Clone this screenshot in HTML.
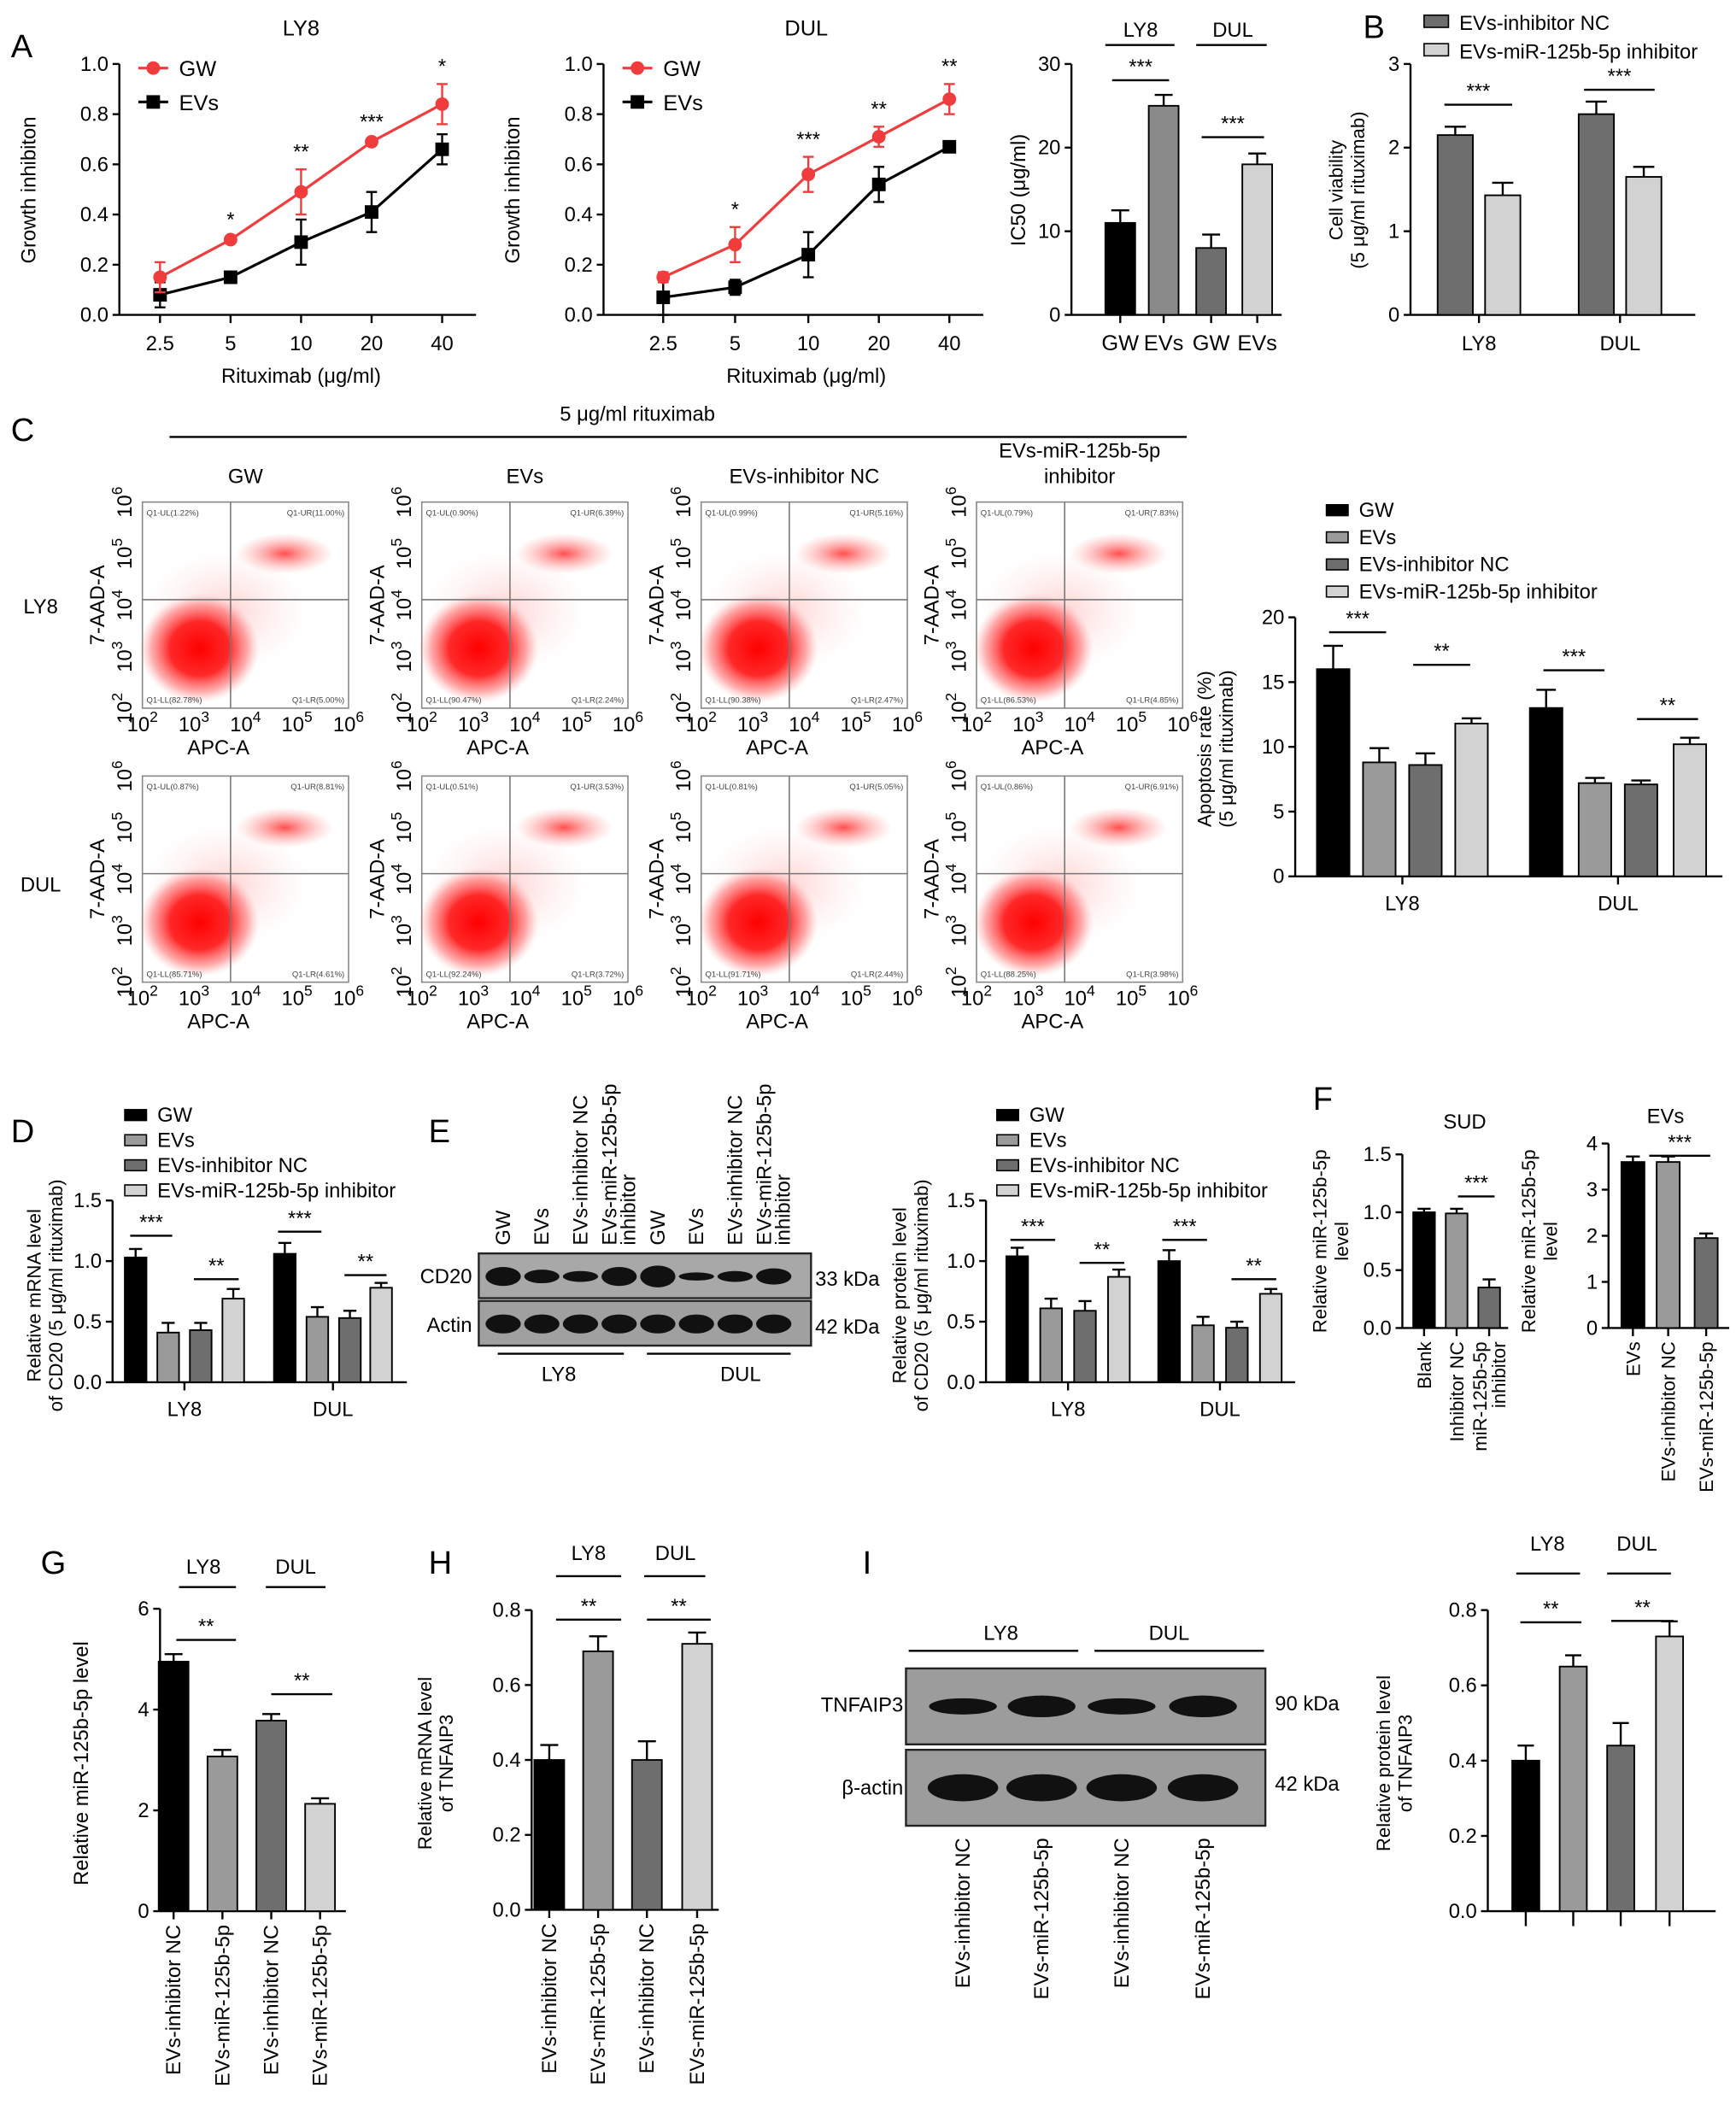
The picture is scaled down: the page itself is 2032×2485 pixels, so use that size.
<!DOCTYPE html>
<html><head><meta charset="utf-8">
<style>
html,body{margin:0;padding:0;background:#fff;}
svg{display:block;font-family:"Liberation Sans",Arial,sans-serif;}
</style></head>
<body>
<svg id="fig" xmlns="http://www.w3.org/2000/svg" width="2032" height="2485" viewBox="0 0 1280 1565">
<rect width="1280" height="1565" fill="#fff"/>
<g font-size="24" fill="#000">
<text x="8" y="42">A</text><text x="1005" y="28">B</text><text x="8" y="325">C</text>
<text x="8" y="842">D</text><text x="316" y="842">E</text><text x="968" y="818">F</text>
<text x="30" y="1160">G</text><text x="316" y="1160">H</text><text x="636" y="1160">I</text>
</g>
</svg>
<script>
const NS='http://www.w3.org/2000/svg';
const svg=document.getElementById('fig');
function mk(tag,attrs,name,parent){const e=document.createElementNS(NS,tag);for(const k in attrs)e.setAttribute(k,attrs[k]);


(parent||svg).appendChild(e);return e;}
function txt(x,y,s,size,name,opt){opt=opt||{};const a={x:x,y:y,'font-size':size,'text-anchor':opt.anchor||'middle',fill:opt.fill||'#000'};
if(opt.rot!==undefined)a.transform='rotate('+opt.rot+' '+x+' '+y+')';const t=mk('text',a,name);t.textContent=s;return t;}
function line(x1,y1,x2,y2,name,w,c){return mk('line',{x1:x1,y1:y1,x2:x2,y2:y2,stroke:c||'#000','stroke-width':w||1.5},name);}

// ===== DATA =====
const doseLabels=['2.5','5','10','20','40'];
const ly8GW=[0.15,0.30,0.49,0.69,0.84], ly8GWerr=[0.06,0.01,0.09,0.01,0.08];
const ly8EV=[0.08,0.15,0.29,0.41,0.66], ly8EVerr=[0.05,0.02,0.09,0.08,0.06];
const ly8Sig=['','*','**','***','*'];
const dulGW=[0.15,0.28,0.56,0.71,0.86], dulGWerr=[0.02,0.07,0.07,0.04,0.06];
const dulEV=[0.07,0.11,0.24,0.52,0.67], dulEVerr=[0.07,0.03,0.09,0.07,0.01];
const dulSig=['','*','***','**','**'];
const ic50Cats=['GW','EVs','GW','EVs'];
const ic50Vals=[11,25,8,18], ic50Err=[1.5,1.3,1.6,1.3];
const bCats=['LY8','DUL'];
const bNC=[2.15,2.4], bNCerr=[0.1,0.15];
const bInh=[1.43,1.65], bInhErr=[0.15,0.12];
const apopLY8=[16,8.8,8.6,11.8], apopLY8Err=[1.8,1.1,0.9,0.4];
const apopDUL=[13,7.2,7.1,10.2], apopDULErr=[1.4,0.4,0.3,0.5];
const dLY8=[1.03,0.41,0.43,0.69], dLY8Err=[0.07,0.08,0.06,0.08];
const dDUL=[1.06,0.54,0.53,0.78], dDULErr=[0.09,0.08,0.06,0.04];
const eLY8=[1.04,0.61,0.59,0.87], eLY8Err=[0.07,0.08,0.08,0.06];
const eDUL=[1.0,0.47,0.45,0.73], eDULErr=[0.09,0.07,0.05,0.04];
const sudCats=['Blank','Inhibitor NC','miR-125b-5p|inhibitor'];
const sudVals=[1.0,0.99,0.35], sudErr=[0.03,0.04,0.07];
const evCats=['EVs','EVs-inhibitor NC','EVs-miR-125b-5p'];
const evVals=[3.6,3.6,1.95], evErr=[0.12,0.12,0.1];
const gCats=['EVs-inhibitor NC','EVs-miR-125b-5p','EVs-inhibitor NC','EVs-miR-125b-5p'];
const gVals=[4.95,3.07,3.78,2.13], gErr=[0.15,0.13,0.13,0.11];
const hVals=[0.40,0.69,0.40,0.71], hErr=[0.04,0.04,0.05,0.03];
const iVals=[0.40,0.65,0.44,0.73], iErr=[0.04,0.03,0.06,0.04];
const flowQ=[['1.22','11.00','82.78','5.00'],['0.90','6.39','90.47','2.24'],['0.99','5.16','90.38','2.47'],['0.79','7.83','86.53','4.85'],
['0.87','8.81','85.71','4.61'],['0.51','3.53','92.24','3.72'],['0.81','5.05','91.71','2.44'],['0.86','6.91','88.25','3.98']];

const C4=['#000','#9a9a9a','#6e6e6e','#d2d2d2'];

// ===== helpers =====
function yScale(yb,yt,max){return v=>yb-v/max*(yb-yt);}
function yAxis(x,yb,yt,max,ticks,fmt,title,name,fs){
  const ys=yScale(yb,yt,max);
  line(x,yb,x,yt,name+'-y-axis');
  ticks.forEach(t=>{line(x-5,ys(t),x,ys(t),name+'-y-tick');txt(x-8,ys(t)+5,fmt(t),fs||15,name+'-y-tick-label',{anchor:'end'});});
  return ys;
}
function bars(xs,vals,errs,w,ys,yb,colors,name){
  vals.forEach((v,i)=>{
    const y=ys(v);
    line(xs[i],y,xs[i],ys(v+errs[i]),name+'-error-bar',1.5);
    line(xs[i]-w*0.3,ys(v+errs[i]),xs[i]+w*0.3,ys(v+errs[i]),name+'-error-cap',1.5);
    mk('rect',{x:xs[i]-w/2,y:y,width:w,height:yb-y,fill:colors[i%colors.length],stroke:'#000','stroke-width':1.2},name+'-bar');
  });
}
function sig(x1,x2,y,s,name){line(x1,y,x2,y,name+'-sig-line',1.5);txt((x1+x2)/2,y-5,s,15,name+'-sig-stars');}
function rotLabel(x,y,s,size,name,anchor){return txt(x,y,s,size,name,{rot:-90,anchor:anchor||'end'});}
function ytitle(x,y,lines,size,name){lines.forEach((l,i)=>txt(x+i*(size+2),y,l,size,name,{rot:-90}));}

// ===== A line charts =====
function lineChart(ax,xs,gw,gwe,ev,eve,sigs,title,name){
  const yb=232,yt=47;
  txt((xs[0]+xs[4])/2,26,title,16,name+'-title');
  const ys=yAxis(ax,yb,yt,1.0,[0,0.2,0.4,0.6,0.8,1.0],t=>t.toFixed(1),'',name,15);
  line(ax,yb,xs[4]+25,yb,name+'-x-axis');
  xs.forEach((x,i)=>{line(x,yb,x,yb+6,name+'-x-tick');txt(x,yb+26,doseLabels[i],15,name+'-x-tick-label');});
  txt((xs[0]+xs[4])/2,yb+50,'Rituximab (μg/ml)',15,name+'-x-axis-title');
  ytitle(ax-62,140,['Growth inhibiton'],15,name+'-y-axis-title');
  function series(v,e,color,shape,sname){
    mk('polyline',{points:xs.map((x,i)=>x+','+ys(v[i])).join(' '),fill:'none',stroke:color,'stroke-width':2},sname+'-line');
    v.forEach((val,i)=>{
      line(xs[i],ys(val-e[i]),xs[i],ys(val+e[i]),sname+'-error-bar',1.5,color);
      line(xs[i]-4,ys(val+e[i]),xs[i]+4,ys(val+e[i]),sname+'-error-cap',1.5,color);
      line(xs[i]-4,ys(val-e[i]),xs[i]+4,ys(val-e[i]),sname+'-error-cap',1.5,color);
      if(shape==='c')mk('circle',{cx:xs[i],cy:ys(val),r:5,fill:color},sname+'-point');
      else mk('rect',{x:xs[i]-5,y:ys(val)-5,width:10,height:10,fill:color},sname+'-point');
    });
  }
  series(ev,eve,'#000','s',name+'-evs');
  series(gw,gwe,'#f03c3c','c',name+'-gw');
  sigs.forEach((s,i)=>{if(s)txt(xs[i],ys(Math.max(gw[i]+gwe[i],ev[i]+eve[i]))-8,s,15,name+'-sig');});
  line(ax+14,50,ax+36,50,name+'-legend-gw-line',2,'#f03c3c');mk('circle',{cx:ax+25,cy:50,r:5,fill:'#f03c3c'},name+'-legend-gw-marker');
  txt(ax+44,56,'GW',16,name+'-legend-gw',{anchor:'start'});
  line(ax+14,75,ax+36,75,name+'-legend-evs-line',2);mk('rect',{x:ax+20,y:70,width:10,height:10,fill:'#000'},name+'-legend-evs-marker');
  txt(ax+44,81,'EVs',16,name+'-legend-evs',{anchor:'start'});
}
lineChart(88,[118,170,222,274,326],ly8GW,ly8GWerr,ly8EV,ly8EVerr,ly8Sig,'LY8','a-ly8');
lineChart(445,[489,542,596,648,700],dulGW,dulGWerr,dulEV,dulEVerr,dulSig,'DUL','a-dul');

// IC50
(function(){const ys=yAxis(790,232,47,30,[0,10,20,30],t=>''+t,'','a-ic50',15);
line(790,232,945,232,'a-ic50-x-axis');const xs=[826,858,893,927];
bars(xs,ic50Vals,ic50Err,22,ys,232,['#000','#8a8a8a','#6e6e6e','#d2d2d2'],'a-ic50');
xs.forEach((x,i)=>{line(x,232,x,238,'a-ic50-x-tick');txt(x,258,ic50Cats[i],16,'a-ic50-x-label');});
ytitle(756,140,['IC50 (μg/ml)'],15,'a-ic50-y-title');
line(815,33,866,33,'a-ic50-ly8-line');txt(841,27,'LY8',15,'a-ic50-ly8-label');
line(882,33,934,33,'a-ic50-dul-line');txt(909,27,'DUL',15,'a-ic50-dul-label');
sig(820,862,59,'***','a-ic50-ly8');sig(886,932,101,'***','a-ic50-dul');})();

// B
(function(){const ys=yAxis(1040,232,47,3,[0,1,2,3],t=>''+t,'','b',15);
line(1040,232,1250,232,'b-x-axis');const xa=[1073,1177],xb=[1108,1212];
bars(xa,bNC,bNCerr,26,ys,232,['#6e6e6e'],'b-nc');bars(xb,bInh,bInhErr,26,ys,232,['#d2d2d2'],'b-inh');
bCats.forEach((c,i)=>{const m=(xa[i]+xb[i])/2;line(m,232,m,238,'b-x-tick');txt(m,258,c,15,'b-x-label');});
ytitle(990,140,['Cell viability','(5 μg/ml rituximab)'],14,'b-y-title');
sig(1065,1115,77,'***','b-ly8');sig(1168,1220,66,'***','b-dul');
mk('rect',{x:1050,y:11,width:18,height:9,fill:'#6e6e6e',stroke:'#000'},'b-legend-nc-swatch');txt(1076,22,'EVs-inhibitor NC',15,'b-legend-nc',{anchor:'start'});
mk('rect',{x:1050,y:32,width:18,height:9,fill:'#d2d2d2',stroke:'#000'},'b-legend-inh-swatch');txt(1076,43,'EVs-miR-125b-5p inhibitor',15,'b-legend-inh',{anchor:'start'});})();

// ===== C flow =====
txt(470,310,'5 μg/ml rituximab',15,'c-title');line(125,322,875,322,'c-title-line',1.5);
const colX=[105,311,517,720], rowY=[370,572], colT=['GW','EVs','EVs-inhibitor NC','EVs-miR-125b-5p|inhibitor'];
txt(30,452,'LY8',15,'c-row-ly8');txt(30,657,'DUL',15,'c-row-dul');
const defs=mk('defs',{},'defs');
const rg=mk('radialGradient',{id:'blob'},'blob-gradient',defs);
mk('stop',{offset:'0','stop-color':'#f00','stop-opacity':'1'},'stop',rg);
mk('stop',{offset:'0.5','stop-color':'#f11','stop-opacity':'0.9'},'stop',rg);
mk('stop',{offset:'0.8','stop-color':'#f44','stop-opacity':'0.45'},'stop',rg);
mk('stop',{offset:'1','stop-color':'#f88','stop-opacity':'0'},'stop',rg);
const rg2=mk('radialGradient',{id:'blob2'},'blob-gradient-2',defs);
mk('stop',{offset:'0','stop-color':'#f22','stop-opacity':'0.8'},'stop',rg2);
mk('stop',{offset:'1','stop-color':'#f88','stop-opacity':'0'},'stop',rg2);
const clip=mk('clipPath',{id:'fclip'},'flow-clip',defs);
let k=0;
rowY.forEach((y,r)=>colX.forEach((x,c)=>{
  const w=152,h=152,nm='c-flow-'+(r?'dul':'ly8')+'-'+c;
  if(r===0){const parts=colT[c].split('|');parts.forEach((p,i)=>txt(x+w/2,y-(parts.length-i)*19+5,p,15,nm+'-title'));}
  mk('rect',{x:x,y:y,width:w,height:h,fill:'#fff',stroke:'#888','stroke-width':1},nm+'-box');
  mk('ellipse',{cx:x+62,cy:y+80,rx:60,ry:45,fill:'url(#blob2)',opacity:'0.25'},nm+'-cluster-scatter');
  mk('ellipse',{cx:x+42,cy:y+108,rx:44,ry:40,fill:'url(#blob)'},nm+'-cluster-live');
  mk('ellipse',{cx:x+105,cy:y+38,rx:36,ry:15,fill:'url(#blob2)'},nm+'-cluster-late');
  line(x+65,y,x+65,y+h,nm+'-gate-v',1,'#777');line(x,y+72,x+w,y+72,nm+'-gate-h',1,'#777');
  const q=flowQ[k++];
  txt(x+3,y+10,'Q1-UL('+q[0]+'%)',6,nm+'-q-ul',{anchor:'start',fill:'#444'});
  txt(x+w-3,y+10,'Q1-UR('+q[1]+'%)',6,nm+'-q-ur',{anchor:'end',fill:'#444'});
  txt(x+3,y+h-4,'Q1-LL('+q[2]+'%)',6,nm+'-q-ll',{anchor:'start',fill:'#444'});
  txt(x+w-3,y+h-4,'Q1-LR('+q[3]+'%)',6,nm+'-q-lr',{anchor:'end',fill:'#444'});
  for(let i=0;i<5;i++){
    const tx=x+i*w/4, t=mk('text',{x:tx,y:y+h+17,'font-size':15,'text-anchor':'middle'},nm+'-x-tick');t.innerHTML='10<tspan dy="-7" font-size="11">'+(i+2)+'</tspan>';
    const ty=y+h-i*h/4, t2=mk('text',{x:x-8,y:ty,'font-size':15,'text-anchor':'middle',transform:'rotate(-90 '+(x-8)+' '+ty+')'},nm+'-y-tick');t2.innerHTML='10<tspan dy="-7" font-size="11">'+(i+2)+'</tspan>';
  }
  txt(x+w/2-20,y+h+34,'APC-A',15,nm+'-x-title');
  txt(x-28,y+h/2,'7-AAD-A',15,nm+'-y-title',{rot:-90});
}));

// C bar
function groupChart(ax,yb,yt,max,ticks,fmt,gx,bw,d1,e1,d2,e2,name,x2){
  const ys=yAxis(ax,yb,yt,max,ticks,fmt,'',name,15);line(ax,yb,x2,yb,name+'-x-axis');
  const xs1=gx[0].map(v=>v),xs2=gx[1].map(v=>v);
  bars(xs1,d1,e1,bw,ys,yb,C4,name+'-ly8');bars(xs2,d2,e2,bw,ys,yb,C4,name+'-dul');
  ['LY8','DUL'].forEach((c,i)=>{const g=i?xs2:xs1;const m=(g[0]+g[3])/2;line(m,yb,m,yb+6,name+'-x-tick');txt(m,yb+25,c,15,name+'-x-label');});
  return ys;
}
function legend4(x,y,gap,name){['GW','EVs','EVs-inhibitor NC','EVs-miR-125b-5p inhibitor'].forEach((s,i)=>{
  mk('rect',{x:x,y:y+i*gap-9,width:16,height:8,fill:C4[i],stroke:'#000'},name+'-legend-swatch');
  txt(x+24,y+i*gap,s,15,name+'-legend-entry',{anchor:'start'});});}
(function(){const ys=groupChart(955,646,455,20,[0,5,10,15,20],t=>''+t,[[983,1017,1051,1085],[1140,1176,1210,1246]],24,apopLY8,apopLY8Err,apopDUL,apopDULErr,'c-apop',1270);
legend4(978,381,20,'c-apop');ytitle(893,552,['Apoptosis rate (%)','(5 μg/ml rituximab)'],14,'c-apop-y-title');
sig(980,1022,466,'***','c-apop-ly8a');sig(1042,1084,490,'**','c-apop-ly8b');sig(1138,1183,494,'***','c-apop-dula');sig(1207,1252,530,'**','c-apop-dulb');})();

// D
(function(){const ys=groupChart(83,1019,885,1.5,[0,0.5,1.0,1.5],t=>t.toFixed(1),[[100,124,148,172],[210,234,258,281]],16,dLY8,dLY8Err,dDUL,dDULErr,'d',300);
legend4(92,827,18.5,'d');ytitle(30,955,['Relative mRNA level','of CD20 (5 μg/ml rituximab)'],14,'d-y-title');
sig(96,127,911,'***','d-ly8a');sig(143,176,943,'**','d-ly8b');sig(205,237,908,'***','d-dula');sig(254,285,940,'**','d-dulb');})();

// E blot
(function(){const bx=353,bw=245;
mk('rect',{x:bx,y:924,width:bw,height:33,fill:'#a8a8a8',stroke:'#222','stroke-width':1.5},'e-blot-cd20');
mk('rect',{x:bx,y:959,width:bw,height:33,fill:'#a0a0a0',stroke:'#222','stroke-width':1.5},'e-blot-actin');
const labs=['GW','EVs','EVs-inhibitor NC','EVs-miR-125b-5p|inhibitor','GW','EVs','EVs-inhibitor NC','EVs-miR-125b-5p|inhibitor'];
const th=[7,5,4,7,8,3,4,6];
for(let i=0;i<8;i++){const cx=bx+18+i*28.5;
mk('ellipse',{cx:cx,cy:941,rx:13,ry:th[i],fill:'#111'},'e-band-cd20');
mk('ellipse',{cx:cx,cy:976,rx:13,ry:7,fill:'#111'},'e-band-actin');
const p=labs[i].split('|');p.forEach((s,j)=>rotLabel(cx+5+j*14-(p.length-1)*7,918,s,15,'e-lane-label','start'));}
txt(bx-5,946,'CD20',15,'e-cd20-label',{anchor:'end'});txt(bx-5,982,'Actin',15,'e-actin-label',{anchor:'end'});
txt(bx+bw+3,948,'33 kDa',15,'e-33kda',{anchor:'start'});txt(bx+bw+3,983,'42 kDa',15,'e-42kda',{anchor:'start'});
line(367,998,460,998,'e-ly8-line');txt(412,1018,'LY8',15,'e-ly8-label');line(477,998,583,998,'e-dul-line');txt(546,1018,'DUL',15,'e-dul-label');})();
(function(){const ys=groupChart(727,1019,885,1.5,[0,0.5,1.0,1.5],t=>t.toFixed(1),[[750,775,800,825],[862,887,912,937]],16,eLY8,eLY8Err,eDUL,eDULErr,'e',955);
legend4(735,827,18.5,'e');ytitle(668,955,['Relative protein level','of CD20 (5 μg/ml rituximab)'],14,'e-y-title');
sig(745,778,914,'***','e-ly8a');sig(796,829,931,'**','e-ly8b');sig(857,890,914,'***','e-dula');sig(908,941,943,'**','e-dulb');})();

// F
function smallBars(ax,yb,yt,max,ticks,fmt,xs,bw,vals,errs,cols,cats,name,x2,lfs){
  const ys=yAxis(ax,yb,yt,max,ticks,fmt,'',name,15);line(ax,yb,x2,yb,name+'-x-axis');
  bars(xs,vals,errs,bw,ys,yb,cols,name);
  xs.forEach((x,i)=>{line(x,yb,x,yb+6,name+'-x-tick');const p=cats[i].split('|');p.forEach((s,j)=>rotLabel(x+5+j*14-(p.length-1)*7,yb+10,s,lfs||15,name+'-x-label'));});
  return ys;
}
smallBars(1034,979,851,1.5,[0,0.5,1.0,1.5],t=>t.toFixed(1),[1050,1074,1098],16,sudVals,sudErr,['#000','#9a9a9a','#6e6e6e'],sudCats,'f-sud',1112,14);
txt(1080,832,'SUD',15,'f-sud-title');ytitle(978,915,['Relative miR-125b-5p','level'],14,'f-sud-y-title');sig(1075,1102,882,'***','f-sud');
smallBars(1186,979,843,4,[0,1,2,3,4],t=>''+t,[1204,1230,1258],17,evVals,evErr,['#000','#9a9a9a','#6e6e6e'],evCats,'f-evs',1275,14);
txt(1228,828,'EVs',15,'f-evs-title');ytitle(1132,915,['Relative miR-125b-5p','level'],14,'f-evs-y-title');sig(1216,1261,852,'***','f-evs');

// G
smallBars(118,1409,1186,6,[0,2,4,6],t=>''+t,[128,164,200,236],22,gVals,gErr,C4,gCats,'g',255,15);
ytitle(65,1300,['Relative miR-125b-5p level'],15,'g-y-title');
line(132,1170,174,1170,'g-ly8-line');txt(150,1160,'LY8',15,'g-ly8-label');line(196,1170,240,1170,'g-dul-line');txt(218,1160,'DUL',15,'g-dul-label');
sig(130,174,1209,'**','g-ly8');sig(200,245,1249,'**','g-dul');
// H
smallBars(392,1408,1187,0.8,[0,0.2,0.4,0.6,0.8],t=>t.toFixed(1),[405,441,477,514],22,hVals,hErr,C4,gCats,'h',530,15);
ytitle(318,1300,['Relative mRNA level','of TNFAIP3'],14,'h-y-title');
line(410,1162,458,1162,'h-ly8-line');txt(434,1150,'LY8',15,'h-ly8-label');line(475,1162,520,1162,'h-dul-line');txt(498,1150,'DUL',15,'h-dul-label');
sig(410,458,1194,'**','h-ly8');sig(477,524,1194,'**','h-dul');
// I blot
(function(){mk('rect',{x:668,y:1230,width:265,height:56,fill:'#9c9c9c',stroke:'#222','stroke-width':1.5},'i-blot-tnfaip3');
mk('rect',{x:668,y:1290,width:265,height:56,fill:'#9c9c9c',stroke:'#222','stroke-width':1.5},'i-blot-actin');
const lx=[710,768,827,887];lx.forEach((x,i)=>{mk('ellipse',{cx:x,cy:1258,rx:25,ry:[6,8,6,8][i],fill:'#111'},'i-band-tnfaip3');
mk('ellipse',{cx:x,cy:1318,rx:26,ry:10,fill:'#111'},'i-band-actin');rotLabel(x+5,1355,gCats[i],15,'i-lane-label');});
txt(666,1262,'TNFAIP3',15,'i-tnfaip3-label',{anchor:'end'});txt(666,1323,'β-actin',15,'i-actin-label',{anchor:'end'});
txt(940,1261,'90 kDa',15,'i-90kda',{anchor:'start'});txt(940,1320,'42 kDa',15,'i-42kda',{anchor:'start'});
line(670,1217,795,1217,'i-ly8-line');txt(738,1209,'LY8',15,'i-ly8-label');line(807,1217,932,1217,'i-dul-line');txt(862,1209,'DUL',15,'i-dul-label');})();
(function(){const ys=yAxis(1097,1409,1187,0.8,[0,0.2,0.4,0.6,0.8],t=>t.toFixed(1),'','i',15);line(1097,1409,1265,1409,'i-x-axis');
const xs=[1125,1160,1195,1231];bars(xs,iVals,iErr,20,ys,1409,C4,'i');xs.forEach(x=>line(x,1409,x,1420,'i-x-tick'));
ytitle(1025,1300,['Relative protein level','of TNFAIP3'],14,'i-y-title');
line(1118,1160,1165,1160,'i-ly8-line');txt(1141,1143,'LY8',15,'i-ly8-label');line(1185,1160,1232,1160,'i-dul-line');txt(1207,1143,'DUL',15,'i-dul-label');
sig(1121,1166,1196,'**','i-ly8');sig(1188,1234,1195,'**','i-dul');})();
</script>
</body></html>
